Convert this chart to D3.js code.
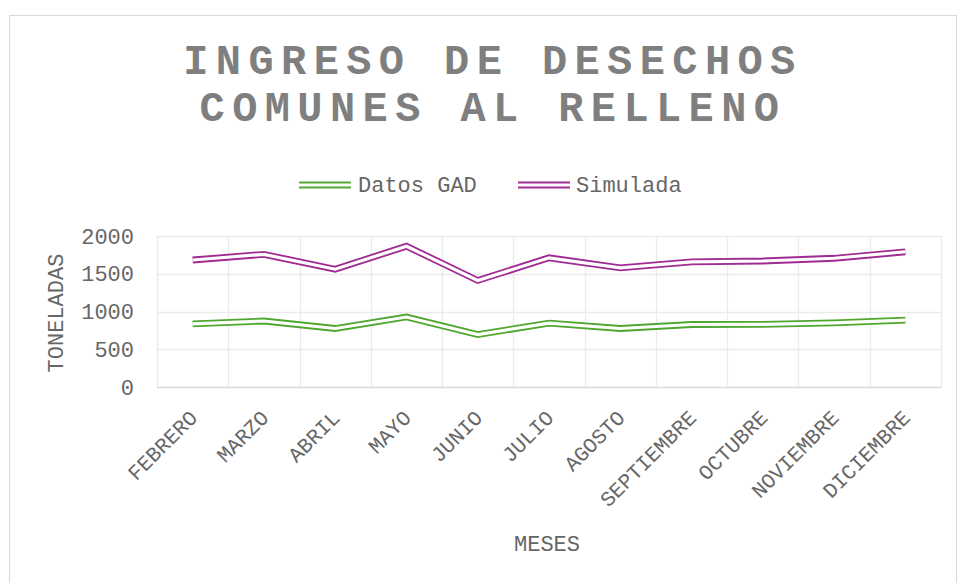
<!DOCTYPE html>
<html>
<head>
<meta charset="utf-8">
<script src="https://cdn.jsdelivr.net/npm/d3@7"></script>
<style>
  html, body { margin: 0; padding: 0; background: #fff; }
  svg { display: block; }
  text { font-family: "Courier New", "Liberation Mono", monospace; }
</style>
</head>
<body>
<svg id="chart" width="957" height="583"></svg>
<script>
const months = ["FEBRERO","MARZO","ABRIL","MAYO","JUNIO","JULIO","AGOSTO","SEPTIEMBRE","OCTUBRE","NOVIEMBRE","DICIEMBRE"];
const datosGAD = [835, 874, 775, 927, 695, 845, 775, 828, 830, 850, 887];
const simulada = [1682, 1757, 1560, 1865, 1411, 1711, 1578, 1658, 1669, 1705, 1791];
const yTicks = [0, 500, 1000, 1500, 2000];
const seriesNames = ["Datos GAD", "Simulada"];
const seriesColors = ["#4EA72E", "#A02B93"];
const titleLines = ["INGRESO DE DESECHOS", "COMUNES AL RELLENO"];

const svg = d3.select("#chart");

// chart border
svg.append("rect").attr("x", 9.5).attr("y", 15.5).attr("width", 947).attr("height", 600)
  .attr("fill", "#fff").attr("stroke", "#d9d9d9").attr("stroke-width", 1);

const plot = { left: 157, right: 941, top: 236, bottom: 387 };
const x = d3.scaleBand().domain(months).range([plot.left, plot.right]).padding(0);
const y = d3.scaleLinear().domain([0, 2000]).range([plot.bottom, plot.top]);

// title
const title = svg.append("text").attr("text-anchor", "middle")
  .attr("fill", "#7f7f7f").attr("font-weight", "bold")
  .attr("font-size", 42).attr("letter-spacing", 7.4);
titleLines.forEach((t, i) => {
  title.append("tspan").attr("x", 493).attr("y", 74 + i * 47).text(t);
});

// gridlines
const grid = svg.append("g");
grid.selectAll("line.h").data(yTicks).join("line")
  .attr("x1", plot.left).attr("x2", plot.right)
  .attr("y1", d => Math.round(y(d)) + 0.5).attr("y2", d => Math.round(y(d)) + 0.5)
  .attr("stroke", d => d === 0 ? "#d9d9d9" : "#ebebeb").attr("stroke-width", 1.3);
const vlines = months.map(m => x(m)).concat([plot.right]);
grid.selectAll("line.v").data(vlines).join("line")
  .attr("x1", d => Math.round(d) + 0.5).attr("x2", d => Math.round(d) + 0.5)
  .attr("y1", plot.top).attr("y2", plot.bottom)
  .attr("stroke", "#ebebeb").attr("stroke-width", 1.3);

// y axis labels
const yAxis = d3.axisLeft(y).tickValues(yTicks).tickFormat(d3.format("d")).tickSize(0).tickPadding(0);
const gy = svg.append("g").attr("transform", `translate(134,0)`).call(yAxis);
gy.select(".domain").remove();
gy.selectAll("text").attr("font-size", 22).attr("fill", "#666")
  .attr("font-family", "'Courier New','Liberation Mono',monospace");

// x axis labels
const xAxis = d3.axisBottom(x).tickSize(0).tickPadding(0);
const gx = svg.append("g").attr("transform", `translate(0,${plot.bottom})`).call(xAxis);
gx.select(".domain").remove();
gx.selectAll("text")
  .attr("font-size", 21).attr("fill", "#666")
  .attr("font-family", "'Courier New','Liberation Mono',monospace")
  .attr("text-anchor", "end")
  .attr("dy", 0)
  .attr("transform", "translate(6,32) rotate(-45)");

// axis titles
svg.append("text").attr("x", 547).attr("y", 551).attr("text-anchor", "middle")
  .attr("font-size", 22).attr("fill", "#666").text("MESES");
svg.append("text").attr("transform", "translate(63,313) rotate(-90)").attr("text-anchor", "middle")
  .attr("font-size", 22).attr("fill", "#666").text("TONELADAS");

// lines (double compound style)
const line = d3.line().x((d, i) => x(months[i]) + x.bandwidth() / 2).y(d => y(d));
[datosGAD, simulada].forEach((vals, k) => {
  const g = svg.append("g");
  g.append("path").attr("d", line(vals)).attr("fill", "none")
    .attr("stroke", seriesColors[k]).attr("stroke-width", 6.8).attr("stroke-linejoin", "miter");
  g.append("path").attr("d", line(vals)).attr("fill", "none")
    .attr("stroke", "#fff").attr("stroke-width", 3.2).attr("stroke-linejoin", "miter");
});

// legend
const legendItems = [{ x: 299, tx: 358 }, { x: 518, tx: 576 }];
legendItems.forEach((it, k) => {
  const g = svg.append("g");
  g.append("line").attr("x1", it.x).attr("x2", it.x + 52).attr("y1", 185).attr("y2", 185)
    .attr("stroke", seriesColors[k]).attr("stroke-width", 6.8);
  g.append("line").attr("x1", it.x - 1).attr("x2", it.x + 53).attr("y1", 185).attr("y2", 185)
    .attr("stroke", "#fff").attr("stroke-width", 3.2);
  g.append("text").attr("x", it.tx).attr("y", 192).attr("font-size", 22).attr("fill", "#666")
    .text(seriesNames[k]);
});
</script>
</body>
</html>
